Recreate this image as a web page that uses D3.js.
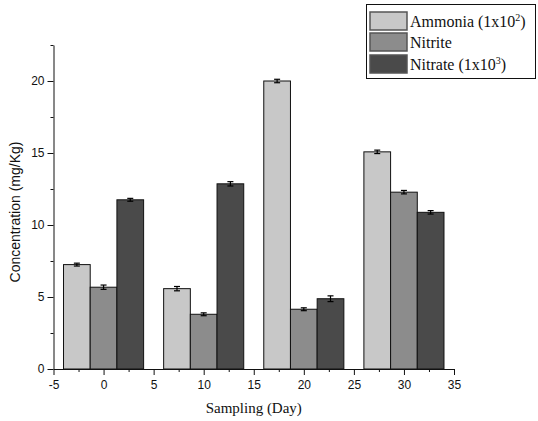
<!DOCTYPE html>
<html><head><meta charset="utf-8">
<script src="https://cdn.jsdelivr.net/npm/d3@7"></script>
<style>body{margin:0;background:#fff}</style>
</head><body>
<svg id="c" width="538" height="421"></svg>
<script>
const days = [0, 10, 20, 30];
const seriesNames = ["Ammonia", "Nitrite", "Nitrate"];
const ammonia = [7.25, 5.58, 20.0, 15.08];
const nitrite = [5.68, 3.80, 4.15, 12.28];
const nitrate = [11.75, 12.86, 4.88, 10.88];
const ammoniaErr = [0.1, 0.15, 0.12, 0.12];
const nitriteErr = [0.15, 0.1, 0.1, 0.12];
const nitrateErr = [0.1, 0.15, 0.2, 0.12];
const xTicks = [-5, 0, 5, 10, 15, 20, 25, 30, 35];
const yTicks = [0, 5, 10, 15, 20];
const colors = ["#c8c8c8", "#8c8c8c", "#4a4a4a"];

const svg = d3.select("#c");
const x = d3.scaleLinear().domain([-5, 35]).range([53.5, 454]);
const y = d3.scaleLinear().domain([0, 22.5]).range([369, 45]);
const values = [ammonia, nitrite, nitrate];
const errs = [ammoniaErr, nitriteErr, nitrateErr];
const bw = 8 / 3;

const g = svg.append("g");
values.forEach((vals, s) => {
  days.forEach((d, i) => {
    const x0 = d - 4 + s * bw;
    g.append("rect")
      .attr("x", x(x0)).attr("width", x(x0 + bw) - x(x0))
      .attr("y", y(vals[i])).attr("height", y(0) - y(vals[i]))
      .attr("fill", colors[s]).attr("stroke", "#111").attr("stroke-width", 1);
  });
});
values.forEach((vals, s) => {
  days.forEach((d, i) => {
    const cx = x(d - 4 + (s + 0.5) * bw);
    const e = errs[s][i];
    const y1 = y(vals[i] + e), y2 = y(vals[i] - e);
    const eg = g.append("g").attr("stroke", "#000").attr("stroke-width", 1.2);
    eg.append("line").attr("x1", cx).attr("x2", cx).attr("y1", y1).attr("y2", y2);
    eg.append("line").attr("x1", cx - 3).attr("x2", cx + 3).attr("y1", y1).attr("y2", y1);
    eg.append("line").attr("x1", cx - 3).attr("x2", cx + 3).attr("y1", y2).attr("y2", y2);
  });
});

// x axis
const xa = svg.append("g").attr("transform", `translate(0,${y(0)})`)
  .call(d3.axisBottom(x).tickValues(xTicks).tickFormat(d => String(d)).tickSize(6).tickSizeOuter(0));
svg.append("g").attr("transform", `translate(0,${y(0)})`)
  .call(d3.axisBottom(x).tickValues(d3.range(-2.5, 35, 5)).tickFormat("").tickSize(3).tickSizeOuter(0))
  .select(".domain").remove();
// y axis
const ya = svg.append("g").attr("transform", `translate(${x(-5)},0)`)
  .call(d3.axisLeft(y).tickValues(yTicks).tickFormat(d => String(d)).tickSize(6).tickSizeOuter(0));
svg.append("g").attr("transform", `translate(${x(-5)},0)`)
  .call(d3.axisLeft(y).tickValues([2.5, 7.5, 12.5, 17.5, 22.5]).tickFormat("").tickSize(3).tickSizeOuter(0))
  .select(".domain").remove();
svg.selectAll(".tick text").attr("font-family", "Liberation Sans, Arial, sans-serif").attr("font-size", 12).attr("fill", "#111");
svg.selectAll(".domain, .tick line").attr("stroke", "#111");
xa.selectAll(".tick text").attr("dy", "0.9em");

svg.append("text").attr("x", (x(-5) + x(35)) / 2).attr("y", 413)
  .attr("text-anchor", "middle").attr("font-family", "Liberation Serif, Times New Roman, serif")
  .attr("font-size", 15).attr("fill", "#111").text("Sampling (Day)");
svg.append("text").attr("transform", `translate(20,${(y(0) + y(22.5)) / 2 + 5}) rotate(-90)`)
  .attr("text-anchor", "middle").attr("font-family", "Liberation Sans, Arial, sans-serif")
  .attr("font-size", 14).attr("fill", "#111").text("Concentration (mg/Kg)");

// legend
const lg = svg.append("g");
lg.append("rect").attr("x", 366.5).attr("y", 4.5).attr("width", 169).attr("height", 74)
  .attr("fill", "#fff").attr("stroke", "#111").attr("stroke-width", 1);
const rowsY = [12, 33, 55];
const labels = [["Ammonia (1x10", "2", ")"], ["Nitrite", "", ""], ["Nitrate (1x10", "3", ")"]];
rowsY.forEach((ry, i) => {
  lg.append("rect").attr("x", 370).attr("y", ry).attr("width", 37).attr("height", 18)
    .attr("fill", colors[i]).attr("stroke", "#555").attr("stroke-width", 1.5);
  const t = lg.append("text").attr("x", 410).attr("y", ry + 15)
    .attr("font-family", "Liberation Serif, Times New Roman, serif").attr("font-size", 16).attr("fill", "#111");
  t.append("tspan").text(labels[i][0]);
  if (labels[i][1]) {
    t.append("tspan").attr("dy", -6).attr("font-size", 10).text(labels[i][1]);
    t.append("tspan").attr("dy", 6).text(labels[i][2]);
  }
});
</script>
</body></html>
